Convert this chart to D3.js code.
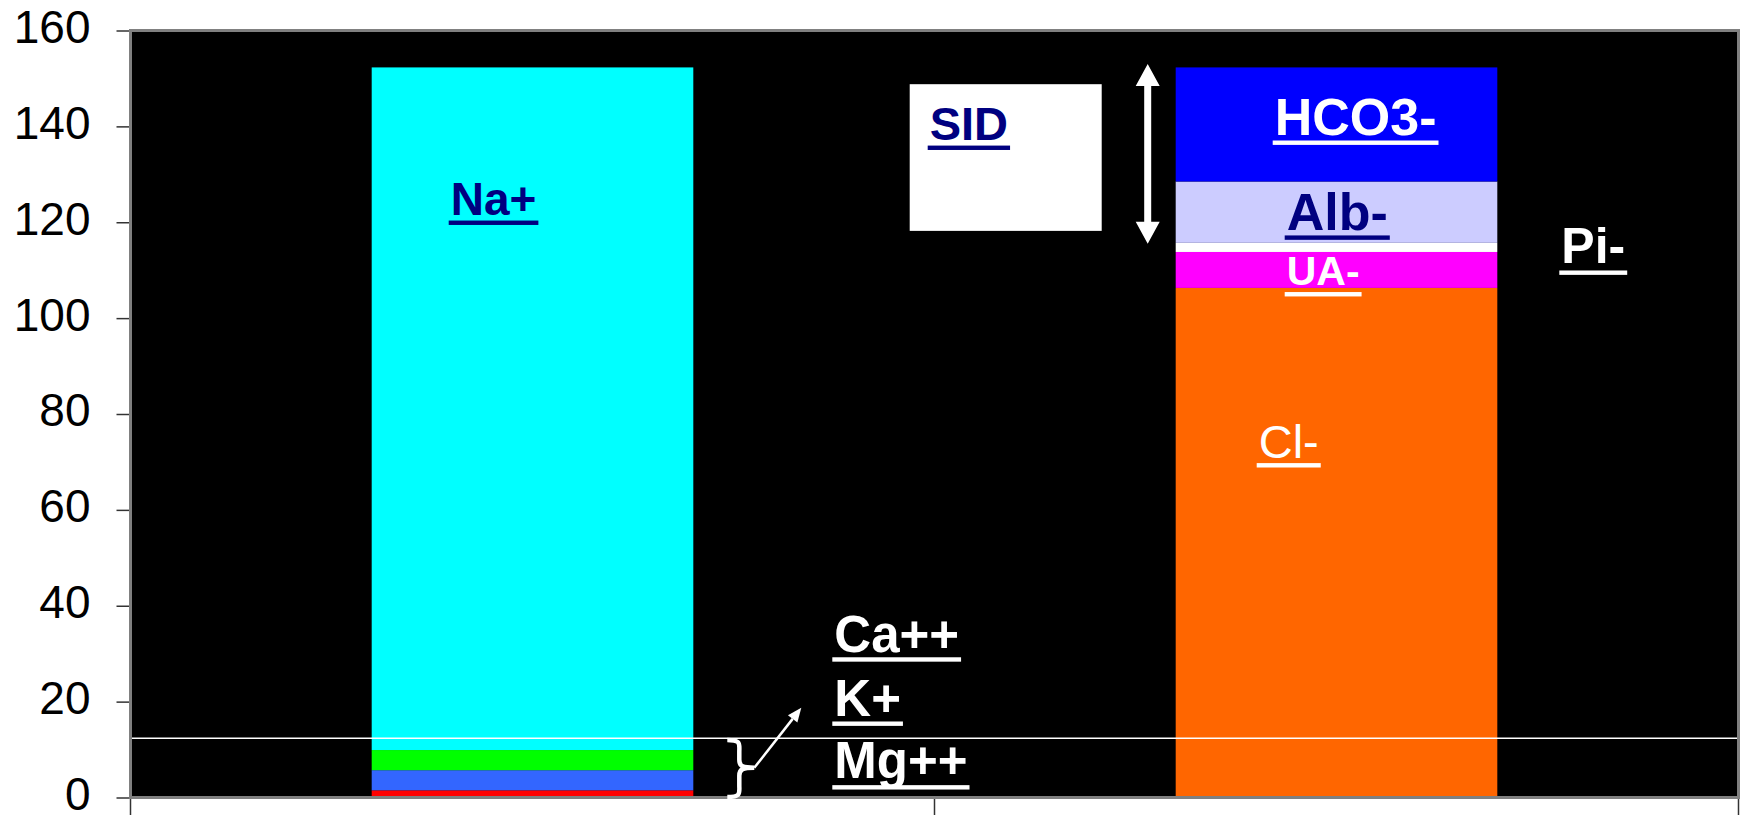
<!DOCTYPE html>
<html>
<head>
<meta charset="utf-8">
<script src="https://cdn.jsdelivr.net/npm/d3@7/dist/d3.min.js"></script>
<style>
  html, body { margin: 0; padding: 0; background: #fff; overflow: hidden; }
  text { font-family: "Liberation Sans", Arial, sans-serif; }
</style>
</head>
<body>
<svg id="chart" width="1740" height="815"></svg>
<script>
// Plasma electrolytes (mEq/L): cations vs anions, stacked bottom to top
const categories = ["Cations", "Anions"];
const cationNames = ["Mg++", "K+", "Ca++", "Na+"];
const cationValues = [1.5, 4.2, 4.2, 142.4];
const anionNames = ["Cl-", "UA-", "Pi-", "Alb-", "HCO3-"];
const anionValues = [106.3, 7.5, 1.9, 12.8, 23.8];
const yTickValues = [0, 20, 40, 60, 80, 100, 120, 140, 160];
const guideLevel = 12.35;

const colors = {
  "Mg++": "#FF0000", "K+": "#3366FF", "Ca++": "#00FF00", "Na+": "#00FFFF",
  "Cl-": "#FF6600", "UA-": "#FF00FF", "Pi-": "#FFFFFF", "Alb-": "#CCCCFF", "HCO3-": "#0000FF"
};

const svg = d3.select("#chart");
const plot = { left: 130.5, right: 1738.5, top: 30.5, bottom: 797.5 };

const x = d3.scaleBand().domain(categories)
  .range([plot.left, plot.right]).paddingInner(0.6).paddingOuter(0.3);
const y = d3.scaleLinear().domain([0, 160]).range([plot.bottom, plot.top]);

// stack each column
function stack(cat, names, values) {
  let acc = 0;
  return names.map((n, i) => {
    const s = { cat, name: n, y0: acc, y1: acc + values[i] };
    acc += values[i];
    return s;
  });
}
const segments = stack("Cations", cationNames, cationValues)
  .concat(stack("Anions", anionNames, anionValues));

// plot background
svg.append("rect")
  .attr("x", plot.left).attr("y", plot.top)
  .attr("width", plot.right - plot.left).attr("height", plot.bottom - plot.top)
  .attr("fill", "#000");

// bars
svg.append("g").selectAll("rect").data(segments).join("rect")
  .attr("x", d => x(d.cat))
  .attr("width", x.bandwidth())
  .attr("y", d => y(d.y1))
  .attr("height", d => y(d.y0) - y(d.y1))
  .attr("fill", d => colors[d.name]);

// horizontal guide line
svg.append("line")
  .attr("x1", plot.left).attr("x2", plot.right)
  .attr("y1", y(guideLevel)).attr("y2", y(guideLevel))
  .attr("stroke", "#fff").attr("stroke-width", 1.5);

// y axis
const yAxis = svg.append("g")
  .attr("transform", `translate(${plot.left},0)`)
  .call(d3.axisLeft(y).tickValues(yTickValues).tickSize(14).tickPadding(26));
yAxis.select(".domain").remove();
yAxis.selectAll(".tick line").attr("stroke", "#333").attr("stroke-width", 1.5);
yAxis.selectAll(".tick text")
  .attr("font-size", 46).attr("fill", "#000")
  .attr("font-family", "'Liberation Sans', Arial, sans-serif")
  .attr("dy", "0.26em");

// x axis: tick marks at the category boundaries
const bounds = d3.range(categories.length + 1).map(i => plot.left + i * x.step());
svg.append("g").selectAll("line").data(bounds).join("line")
  .attr("x1", d => d).attr("x2", d => d)
  .attr("y1", plot.bottom).attr("y2", 818)
  .attr("stroke", "#333").attr("stroke-width", 1.5);

// plot frame
svg.append("rect")
  .attr("x", plot.left).attr("y", plot.top)
  .attr("width", plot.right - plot.left).attr("height", plot.bottom - plot.top)
  .attr("fill", "none").attr("stroke", "#808080").attr("stroke-width", 3);

const barL = cat => x(cat);
const barR = cat => x(cat) + x.bandwidth();

// SID box
svg.append("rect")
  .attr("x", barL("Anions") - 266).attr("y", y(148.8))
  .attr("width", 192).attr("height", y(118.2) - y(148.8))
  .attr("fill", "#fff");

// underlined labels
function label(txt, px, val, size, color, weight, gap) {
  const t = svg.append("text")
    .attr("x", px).attr("y", y(val))
    .attr("font-size", size).attr("font-weight", weight)
    .attr("fill", color).text(txt);
  const w = t.node().getComputedTextLength();
  svg.append("rect")
    .attr("x", px - 2).attr("y", y(val) + gap - 2.2)
    .attr("width", w + 4).attr("height", 4.4)
    .attr("fill", color);
}
const navy = "#000080";
label("Na+", barL("Cations") + 79, 121.5, 46, navy, "bold", 7.7);
label("SID", barL("Anions") - 246, 137.1, 47, navy, "bold", 7.5);
label("HCO3-", barL("Anions") + 99, 138.2, 52, "#fff", "bold", 7.7);
label("Alb-", barL("Anions") + 111, 118.4, 52, navy, "bold", 7.7);
label("UA-", barL("Anions") + 111, 106.9, 41, "#fff", "bold", 9.2);
label("Pi-", barR("Anions") + 64, 111.4, 50, "#fff", "bold", 9.2);
label("Cl-", barL("Anions") + 83, 70.8, 47, "#fff", "normal", 7.2);
label("Ca++", barR("Cations") + 141, 30.4, 51, "#fff", "bold", 7.7);
label("K+", barR("Cations") + 141, 16.9, 51, "#fff", "bold", 7.2);
label("Mg++", barR("Cations") + 141, 4.1, 51, "#fff", "bold", 9.5);

// double-headed arrow spanning the SID
{
  const cx = barL("Anions") - 28;
  const top = y(153.0), bot = y(115.5);
  const hw = 12, hl = 22, sw = 3.5;
  const pts = [
    [cx, top], [cx + hw, top + hl], [cx + sw, top + hl], [cx + sw, bot - hl],
    [cx + hw, bot - hl], [cx, bot], [cx - hw, bot - hl], [cx - sw, bot - hl],
    [cx - sw, top + hl], [cx - hw, top + hl]
  ];
  svg.append("polygon").attr("points", pts.map(p => p.join(",")).join(" "))
    .attr("fill", "#fff");
}

// brace grouping the small cations, with a pointer to their labels
{
  const bx = barR("Cations") + 34;
  const t = y(12.0), b = y(0.1), m = y(6.2);
  const d = `M${bx},${t} C${bx + 14},${t} ${bx + 12},${t + 4} ${bx + 12},${t + 12}
             L${bx + 12},${m - 8} C${bx + 12},${m - 1} ${bx + 16},${m} ${bx + 27},${m}
             C${bx + 16},${m} ${bx + 12},${m + 1} ${bx + 12},${m + 8}
             L${bx + 12},${b - 12} C${bx + 12},${b - 4} ${bx + 14},${b} ${bx},${b}`;
  svg.append("path").attr("d", d).attr("fill", "none")
    .attr("stroke", "#fff").attr("stroke-width", 4.5);

  const x1 = bx + 27, y1 = m, x2 = bx + 74, y2 = y(18.7);
  const ang = Math.atan2(y2 - y1, x2 - x1);
  const hl = 14, hw = 6;
  const ex = x2 - hl * Math.cos(ang), ey = y2 - hl * Math.sin(ang);
  svg.append("line").attr("x1", x1).attr("y1", y1).attr("x2", ex).attr("y2", ey)
    .attr("stroke", "#fff").attr("stroke-width", 2.5);
  const px = -Math.sin(ang), py = Math.cos(ang);
  svg.append("polygon")
    .attr("points", `${x2},${y2} ${ex + hw * px},${ey + hw * py} ${ex - hw * px},${ey - hw * py}`)
    .attr("fill", "#fff");
}
</script>
</body>
</html>
